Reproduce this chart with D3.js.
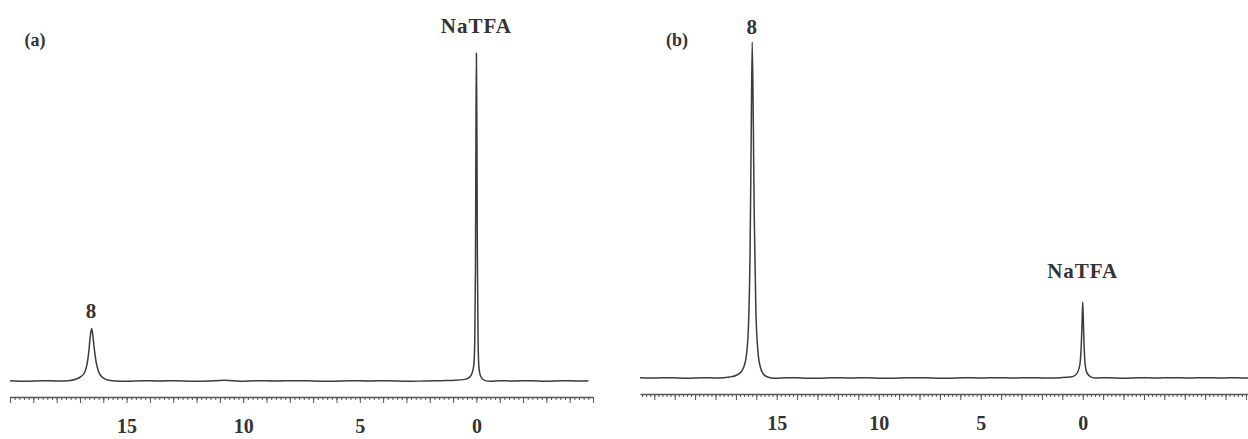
<!DOCTYPE html>
<html lang="en">
<head>
<meta charset="UTF-8">
<title>NMR spectra</title>
<style>
  html, body { margin: 0; padding: 0; background: #fff; }
  svg { display: block; }
  text { font-family: "Liberation Serif", "DejaVu Serif", serif; font-weight: bold; fill: #333; }
  .axis path, .axis line { stroke: #555; }
</style>
</head>
<body>
<svg id="chart" width="1248" height="439"></svg>
<script src="https://d3js.org/d3.v7.min.js"></script>
<script>

// tick labels (ppm)
const tickLabels = [15, 10, 5, 0];

// panel (a) : chemical shift (ppm) and intensity (NaTFA peak = 100)
const ppmA = [20, 19.3, 18.6, 18, 17.5, 17.15, 16.95, 16.8, 16.7, 16.62, 16.56, 16.5, 16.45, 16.38, 16.3, 16.2, 16.05, 15.85, 15.5, 15, 14.3, 13.6, 12.9, 12.2, 11.5, 10.8, 10.1, 9.4, 8.6, 7.8, 7, 6.2, 5.4, 4.6, 3.8, 3, 2.2, 1.5, 0.9, 0.5, 0.3, 0.18, 0.11, 0.07, 0.04, 0.02, 0, -0.02, -0.04, -0.07, -0.1, -0.15, -0.22, -0.35, -0.6, -1, -1.6, -2.3, -3, -3.7, -4.3, -4.8];
const intA = [0.1, -0.1, 0.1, 0, 0.1, 0.6, 1.4, 2.6, 5, 9, 13.5, 16, 14, 9.5, 5.5, 2.8, 1.2, 0.4, 0, -0.1, 0.1, 0, 0.1, -0.1, 0, 0.2, -0.1, 0.1, 0, 0.1, 0, -0.1, 0.1, 0, 0.1, -0.1, 0, 0.1, 0.2, 0.5, 1.1, 2.5, 5, 12, 35, 75, 100, 78, 40, 14, 5, 2.2, 1, 0.2, -0.1, 0.1, 0, 0.1, -0.1, 0.1, 0, 0.1];

// panel (b)
const ppmB = [21.7, 21, 20.2, 19.4, 18.6, 17.9, 17.3, 16.95, 16.75, 16.6, 16.48, 16.38, 16.3, 16.25, 16.2, 16.15, 16.1, 16.02, 15.92, 15.8, 15.65, 15.45, 15.1, 14.5, 13.8, 13, 12.2, 11.4, 10.6, 9.8, 9, 8.2, 7.4, 6.6, 5.8, 5, 4.2, 3.4, 2.6, 1.8, 1.1, 0.6, 0.35, 0.2, 0.12, 0.07, 0.03, 0, -0.03, -0.07, -0.12, -0.2, -0.35, -0.6, -1.2, -2, -2.8, -3.6, -4.4, -5.2, -6, -6.8, -7.5, -8.1];
const intB = [0.1, 0, 0.1, -0.1, 0.1, 0, 0.3, 0.9, 1.8, 3.5, 7, 16, 40, 72, 100, 78, 48, 20, 8, 3.2, 1.2, 0.3, -0.1, 0.1, 0, -0.1, 0.1, 0, 0.1, -0.1, 0, 0.1, 0, -0.1, 0.1, 0, 0.1, 0, 0.1, 0, 0.1, 0.3, 0.9, 2.5, 5, 10, 17, 22.6, 17, 9, 4, 1.6, 0.5, 0, 0.1, -0.1, 0.1, 0, 0.1, 0, 0.1, 0, 0.1, 0];

const panels = [
  { tag: '(a)', ppm: ppmA, val: intA, dom: [20, -5], x0: 10, x1: 593, base: 381, top: 53, axisY: 397,
    tagPos: [35, 46],
    labels: [ { text: '8', ppm: 16.5, y: 318 }, { text: 'NaTFA', ppm: 0, y: 33 } ] },
  { tag: '(b)', ppm: ppmB, val: intB, dom: [21.7, -8.1], x0: 640, x1: 1248, base: 378, top: 42, axisY: 394,
    tagPos: [677, 46],
    labels: [ { text: '8', ppm: 16.2, y: 34 }, { text: 'NaTFA', ppm: 0, y: 278 } ] }
];

const svg = d3.select('#chart');

panels.forEach(function(p) {
  let x = d3.scaleLinear().domain(p.dom).range([p.x0, p.x1]);
  let y = d3.scaleLinear().domain([0, 100]).range([p.base, p.top]);
  let g = svg.append('g');

  // minor ticks every 0.2 ppm
  let lo = Math.min(p.dom[0], p.dom[1]);
  let hi = Math.max(p.dom[0], p.dom[1]);
  let minor = d3.range(Math.ceil(lo * 5), Math.floor(hi * 5) + 1).map(d => d / 5);
  g.append('g')
   .attr('class', 'axis')
   .attr('transform', `translate(0, ${p.axisY})`)
   .call(d3.axisBottom(x).tickValues(minor).tickSize(3).tickSizeOuter(0).tickFormat(''))
   .select('.domain').attr('stroke-width', 1.6);

  // unit ticks
  let units = d3.range(Math.ceil(lo), Math.floor(hi) + 1);
  g.append('g')
   .attr('class', 'axis')
   .attr('transform', `translate(0, ${p.axisY})`)
   .call(d3.axisBottom(x).tickValues(units).tickSize(6).tickSizeOuter(0).tickFormat(''))
   .select('.domain').remove();

  // labelled ticks
  g.append('g')
   .attr('class', 'axis')
   .attr('transform', `translate(0, ${p.axisY})`)
   .call(d3.axisBottom(x).tickValues(tickLabels).tickSize(0).tickPadding(22))
   .call(a => a.select('.domain').remove())
   .selectAll('text')
   .style('font-size', '20px')
   .style('font-family', '"Liberation Serif", serif')
   .attr('fill', '#333');

  // spectrum
  let pts = p.ppm.map((d, i) => [d, p.val[i]]);
  g.append('path')
   .datum(pts)
   .attr('fill', 'none')
   .attr('stroke', '#3c3c3c')
   .attr('stroke-width', 1.5)
   .attr('stroke-linejoin', 'round')
   .attr('d', d3.line()
                .x(d => x(d[0]))
                .y(d => y(d[1]))
                .curve(d3.curveMonotoneX));

  // panel tag
  g.append('text')
   .attr('x', p.tagPos[0])
   .attr('y', p.tagPos[1])
   .attr('text-anchor', 'middle')
   .style('font-size', '18px')
   .text(p.tag);

  // peak labels
  p.labels.forEach(function(l) {
    g.append('text')
     .attr('x', x(l.ppm))
     .attr('y', l.y)
     .attr('text-anchor', 'middle')
     .style('font-size', '21px')
     .style('letter-spacing', '1px')
     .text(l.text);
  });
});

</script>
</body>
</html>
